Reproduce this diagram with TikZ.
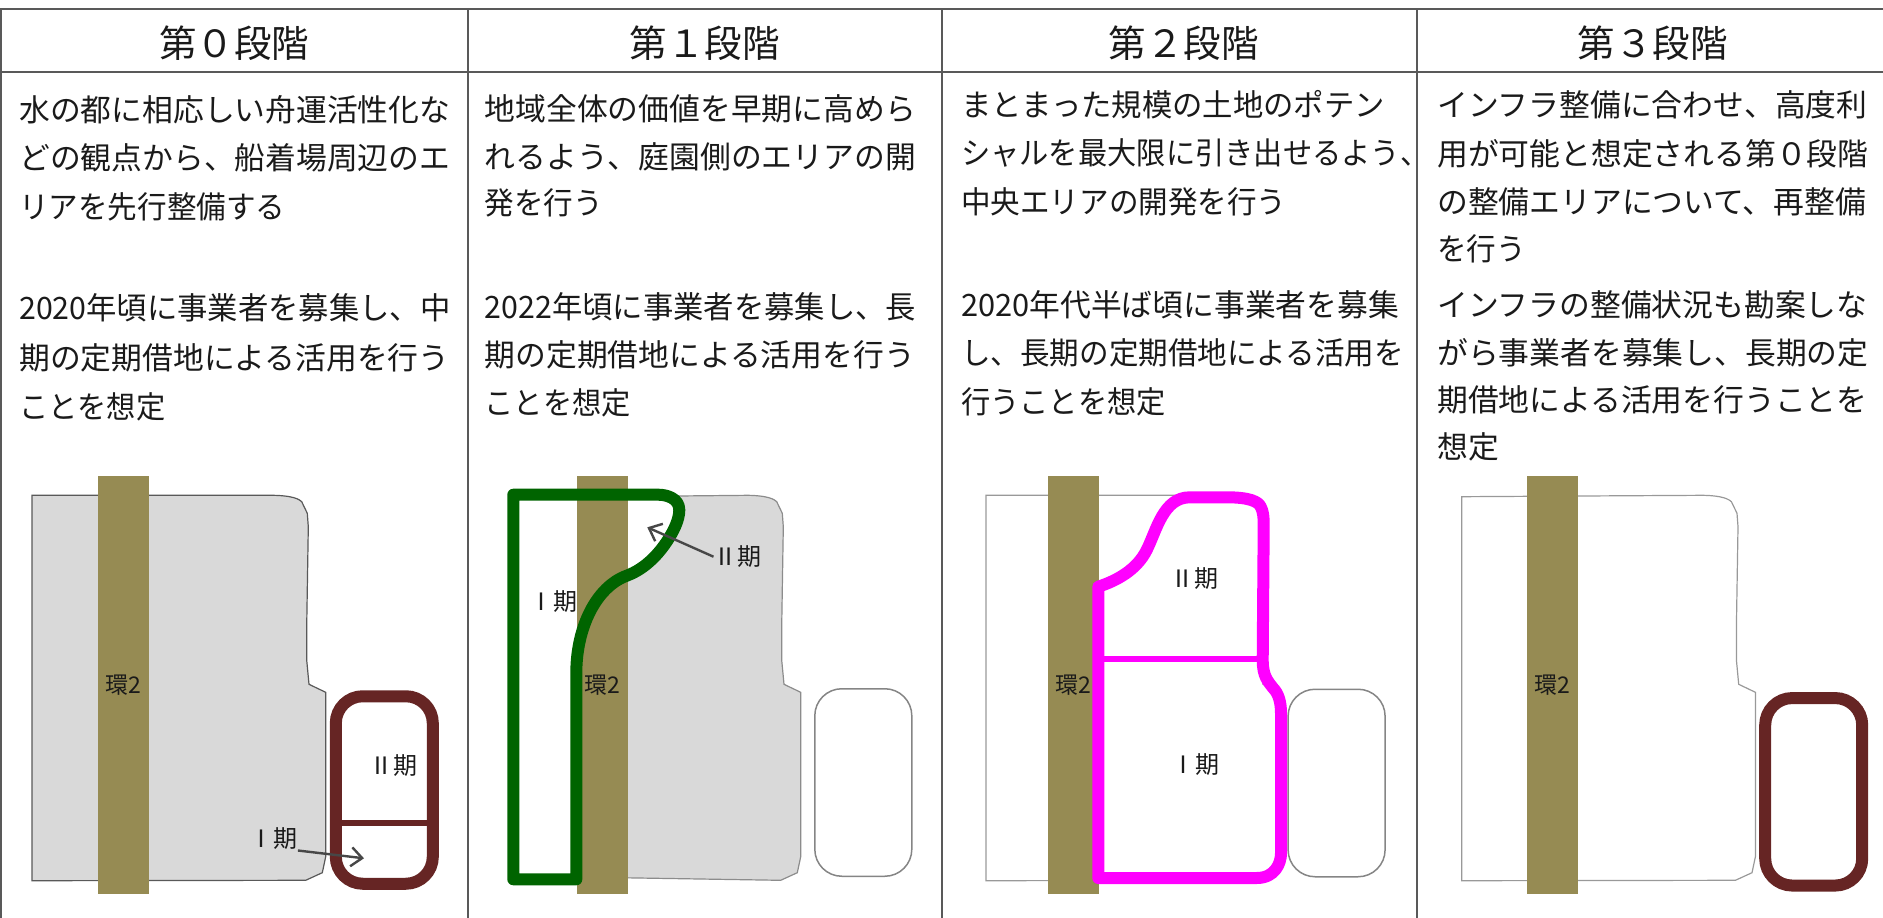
\documentclass[tikz,border=0pt]{standalone}
\usepackage{fontspec}
\setmainfont{Noto Sans CJK JP}
\usetikzlibrary{arrows.meta}
\definecolor{roadcol}{HTML}{968B53}
\definecolor{brown}{HTML}{662524}
\definecolor{ink}{HTML}{1A1A1A}
\definecolor{parkgreen}{RGB}{0,100,0}
\definecolor{pinkline}{RGB}{255,0,255}
\tikzset{
  rule/.style={draw=black!65,line width=2pt},
  head/.style={inner sep=0,text=ink,font=\fontsize{37.5}{37.5}\selectfont,text height=33pt,text depth=4.5pt},
  txt/.style={anchor=west,inner sep=0,text=ink,font=\fontsize{30.8}{36}\selectfont,text height=27pt,text depth=3.8pt},
  phase/.style={inner sep=0,text=ink,font=\fontsize{24}{26}\selectfont,text height=21pt,text depth=3pt},
  road/.style={fill=roadcol,inner sep=0,outer sep=0,minimum width=51pt,minimum height=418pt,text=ink,font=\fontsize{23}{24}\selectfont},
  pill/.style={draw,rounded corners=27pt,inner sep=0,outer sep=0,minimum width=#1},
  pill/.default=97pt,
  port/.style={pill,draw=brown,line width=12pt,minimum height=187.5pt},
  oldport/.style={pill,draw=black!48,line width=1.5pt,minimum height=187.5pt},
  siteright/.style={insert path={
    -- (273.3,495.3) .. controls (285,495.5) and (297,497) .. (301.7,501.7)
    -- (307.3,513.3) -- (308.3,526.7) -- (306.7,626.7) -- (306.7,660) -- (309,684.3)
    -- (325.7,692.3) -- (325.7,856.7) -- (322.3,872.7) -- (305.7,880.3)}},
  note/.style={->,draw=black!72,line width=2.4pt},
  >={Straight Barb[length=11pt,width=19pt,line width=2.4pt]}
}
\begin{document}
\begin{tikzpicture}[x=1pt,y=-1pt]
  \useasboundingbox (0,0) rectangle (1883,918);
  % sites
  \draw[fill=black!15,draw=black!65,line width=1.2pt] (32,495.3) [siteright] -- (32,880.7) -- cycle;
  \begin{scope}[xshift=475pt]
    \draw[fill=black!15,draw=black!45,line width=1.2pt] (132,496.7) [siteright] -- (132,877.5);
  \end{scope}
  \begin{scope}[xshift=954pt]
    \draw[draw=black!40,line width=1.2pt] (32,495.3) [siteright] -- (32,880.7) -- cycle;
  \end{scope}
  \begin{scope}[xshift=1429.7pt]
    \draw[draw=black!40,line width=1.2pt] (32,496.7) [siteright] -- (32,880.7) -- cycle;
  \end{scope}
  % inside of the green area
  \fill[white] (513.3,494.7) -- (658.3,494.7) -- (679.3,510) -- (666.7,541.7) -- (626.7,575.7)
    -- (576.3,673.3) -- (576.3,879.3) -- (513.3,879.3) -- cycle;
  % ring road 2
  \node[road] (roadA) at (123.5,685) {環2};
  \node[road] (roadB) at (602.3,685) {環2};
  \node[road] (roadC) at (1073.5,685) {環2};
  \node[road] (roadD) at (1552.5,685) {環2};
  % harbour blocks
  \node[port] (portA) at (384.3,790) {};
  \draw[brown,line width=6pt] (portA.west |- 0,823.3) -- (portA.east |- 0,823.3);
  \node[oldport] (portB) at (863.3,782.5) {};
  \node[oldport] (portC) at (1336.6,783) {};
  \node[port] (portD) at (1813.7,791.8) {};
  % green area
  \draw[draw=parkgreen,line width=12pt,line join=round]
    (513.3,494.7) -- (658.3,494.7)
    .. controls (666.7,494.7) and (679.3,498.3) .. (679.3,510)
    .. controls (679.3,520) and (673.3,531.7) .. (666.7,541.7)
    .. controls (660,551.7) and (646.7,568.3) .. (626.7,575.7)
    .. controls (596.7,586.7) and (576.3,626.7) .. (576.3,673.3)
    -- (576.3,879.3) -- (513.3,879.3) -- cycle;
  % magenta area
  \draw[draw=pinkline,line width=12pt,line join=round]
    (1098.3,586.7) .. controls (1116.7,580.7) and (1136.7,570) .. (1146.7,550)
    .. controls (1156.7,530) and (1163.3,497.3) .. (1190,497.3)
    -- (1226.7,497.3)
    .. controls (1250,497.3) and (1258.3,501.7) .. (1260.7,506.7)
    .. controls (1263.3,511.7) and (1263.7,516.7) .. (1263.7,526.7)
    -- (1262.7,660)
    .. controls (1262.7,676.7) and (1268.3,681.7) .. (1273.3,688.3)
    .. controls (1278.3,693.3) and (1281,701.7) .. (1281,713.3)
    -- (1281,853.3)
    .. controls (1281,863.3) and (1275,878) .. (1256.7,878)
    -- (1098.3,878) -- cycle;
  \draw[draw=pinkline,line width=6pt] (1098.3,659) -- (1262.7,659);
  % phase labels
  \node[phase] (oneA) at (273.7,838.3) {Ⅰ期};
  \node[phase] (twoA) at (393.3,765.7) {Ⅱ期};
  \node[phase] (oneB) at (553,601.7) {Ⅰ期};
  \node[phase] (twoB) at (737.7,556.7) {Ⅱ期};
  \node[phase] (twoC) at (1194,578.7) {Ⅱ期};
  \node[phase] (oneC) at (1195,764.7) {Ⅰ期};
  \coordinate (aimA) at (364,858.3);
  \coordinate (aimB) at (647.3,527.3);
  \draw[note] (oneA.south east) -- (aimA);
  \draw[note] (twoB.west) -- (aimB);
  % table rules
  \draw[rule] (0,9) -- (1883,9);
  \draw[rule] (0,72) -- (1883,72);
  \draw[rule] (1,9) -- (1,918);
  \draw[rule] (468,9) -- (468,918);
  \draw[rule] (942,9) -- (942,918);
  \draw[rule] (1417.3,9) -- (1417.3,918);
  % headers
  \node[head] (headA) at (234,43) {第０段階};
  \node[head] (headB) at (704.5,43) {第１段階};
  \node[head] (headC) at (1183.5,43) {第２段階};
  \node[head] (headD) at (1652.5,43) {第３段階};
  % first column
  \node[txt] (a1) at (19,110) {水の都に相応しい舟運活性化な};
  \node[txt] (a2) at (19,158) {どの観点から、船着場周辺のエ};
  \node[txt] (a3) at (19,207) {\scalebox{.96}[1]{リアを先行整備する}};
  \node[txt] (a4) at (19,308) {\scalebox{.985}[1]{2020年頃に事業者を募集し、中}};
  \node[txt] (a5) at (19,358) {期の定期借地による活用を行う};
  \node[txt] (a6) at (19,407) {\scalebox{.95}[1]{ことを想定}};
  % second column
  \node[txt] (b1) at (484.5,109) {地域全体の価値を早期に高めら};
  \node[txt] (b2) at (484.5,157) {れるよう、庭園側のエリアの開};
  \node[txt] (b3) at (484.5,203) {\scalebox{.96}[1]{発を行う}};
  \node[txt] (b4) at (484.5,307) {\scalebox{.985}[1]{2022年頃に事業者を募集し、長}};
  \node[txt] (b5) at (484.5,355) {期の定期借地による活用を行う};
  \node[txt] (b6) at (484.5,403) {\scalebox{.95}[1]{ことを想定}};
  % third column
  \node[txt] (c1) at (961,105) {\scalebox{.985}[1]{まとまった規模の土地のポテン}};
  \node[txt] (c2) at (961,153) {\scalebox{.95}[1]{シャルを最大限に引き出せるよう、}};
  \node[txt] (c3) at (961,202) {\scalebox{.96}[1]{中央エリアの開発を行う}};
  \node[txt] (c4) at (961,305) {2020年代半ば頃に事業者を募集};
  \node[txt] (c5) at (961,353) {\scalebox{.96}[1]{し、長期の定期借地による活用を}};
  \node[txt] (c6) at (961,402) {\scalebox{.95}[1]{行うことを想定}};
  % fourth column
  \node[txt] (d1) at (1437,105) {インフラ整備に合わせ、高度利};
  \node[txt] (d2) at (1437,154) {用が可能と想定される第０段階};
  \node[txt] (d3) at (1437,202) {の整備エリアについて、再整備};
  \node[txt] (d4) at (1437,249) {\scalebox{.96}[1]{を行う}};
  \node[txt] (d5) at (1437,305) {インフラの整備状況も勘案しな};
  \node[txt] (d6) at (1437,353) {がら事業者を募集し、長期の定};
  \node[txt] (d7) at (1437,400) {期借地による活用を行うことを};
  \node[txt] (d8) at (1437,447) {想定};
\end{tikzpicture}
\end{document}
